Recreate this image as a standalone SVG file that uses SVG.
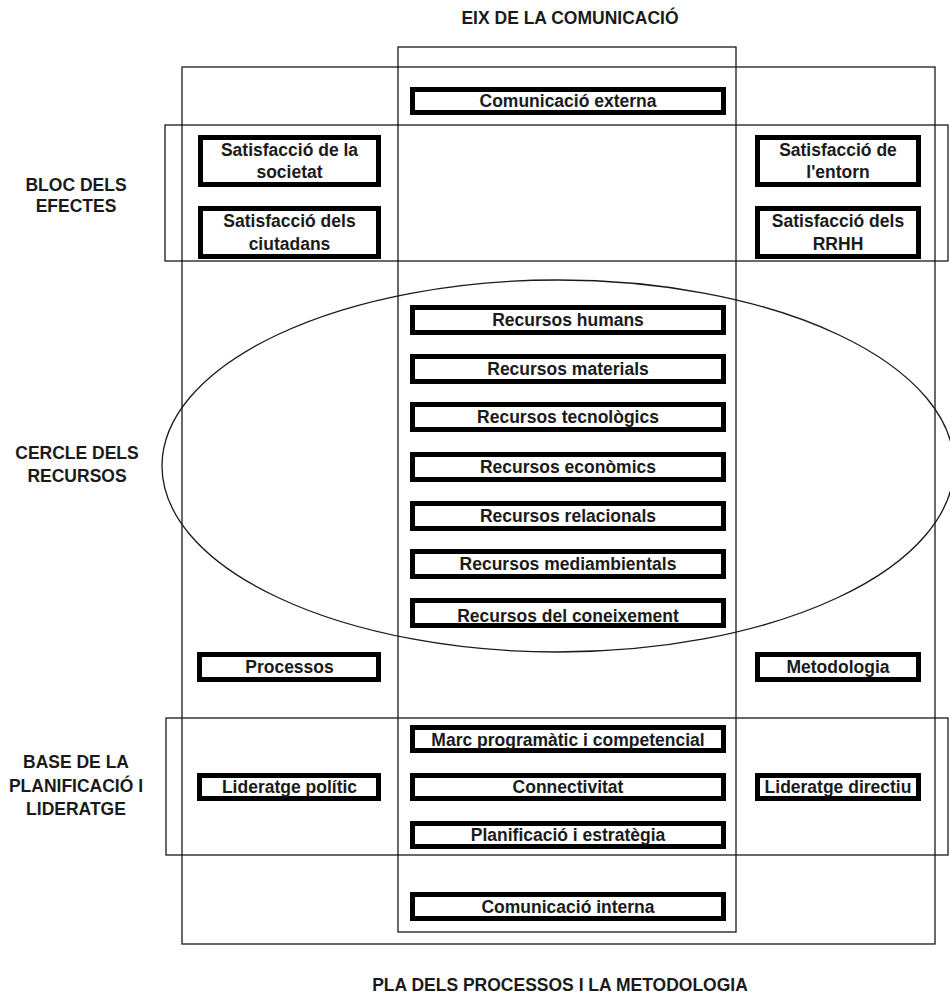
<svg xmlns="http://www.w3.org/2000/svg" width="950" height="995" viewBox="0 0 950 995">
<style>
.frame{fill:none;stroke:#1a1a1a;stroke-width:1.3}
.box rect{fill:#fff;stroke:#000;stroke-width:5}
text{font-family:"Liberation Sans",Arial,sans-serif;font-weight:bold;font-size:17.5px;fill:#1a1a1a;text-anchor:middle}
</style>
<rect width="950" height="995" fill="#fff"/>
<g id="frames">
<rect class="frame" x="182" y="67" width="753" height="877"/>
<rect class="frame" x="398" y="47" width="338" height="885"/>
<rect class="frame" x="165" y="125" width="783" height="136"/>
<rect class="frame" x="166" y="718" width="782" height="137"/>
<ellipse class="frame" cx="558" cy="466" rx="396" ry="186"/>
</g>
<g id="labels">
<text x="570" y="24">EIX DE LA COMUNICACIÓ</text>
<text x="76" y="191">BLOC DELS</text>
<text x="76" y="212">EFECTES</text>
<text x="77" y="459">CERCLE DELS</text>
<text x="77" y="482">RECURSOS</text>
<text x="76" y="768">BASE DE LA</text>
<text x="76" y="792">PLANIFICACIÓ I</text>
<text x="76" y="815">LIDERATGE</text>
<text x="560" y="991">PLA DELS PROCESSOS I LA METODOLOGIA</text>
</g>
<g id="n-com-ext" class="box"><rect x="412.5" y="89.5" width="311" height="23"/><text x="568" y="107">Comunicació externa</text></g>
<g id="n-sat-soc" class="box"><rect x="200.5" y="137.5" width="178" height="47"/><text x="289.5" y="156">Satisfacció de la</text><text x="289.5" y="178">societat</text></g>
<g id="n-sat-ciu" class="box"><rect x="200.5" y="208.5" width="178" height="48"/><text x="289.5" y="227">Satisfacció dels</text><text x="289.5" y="250">ciutadans</text></g>
<g id="n-sat-ent" class="box"><rect x="757.5" y="137.5" width="161" height="47"/><text x="838" y="156">Satisfacció de</text><text x="838" y="178">l'entorn</text></g>
<g id="n-sat-rrhh" class="box"><rect x="757.5" y="208.5" width="161" height="48"/><text x="838" y="227">Satisfacció dels</text><text x="838" y="250">RRHH</text></g>
<g id="n-rec-hum" class="box"><rect x="412.5" y="307.5" width="311" height="25"/><text x="568" y="326">Recursos humans</text></g>
<g id="n-rec-mat" class="box"><rect x="412.5" y="356.5" width="311" height="25"/><text x="568" y="375">Recursos materials</text></g>
<g id="n-rec-tec" class="box"><rect x="412.5" y="404.5" width="311" height="25"/><text x="568" y="423">Recursos tecnològics</text></g>
<g id="n-rec-eco" class="box"><rect x="412.5" y="454.5" width="311" height="25"/><text x="568" y="473">Recursos econòmics</text></g>
<g id="n-rec-rel" class="box"><rect x="412.5" y="503.5" width="311" height="25"/><text x="568" y="522">Recursos relacionals</text></g>
<g id="n-rec-med" class="box"><rect x="412.5" y="551.5" width="311" height="25"/><text x="568" y="570">Recursos mediambientals</text></g>
<g id="n-rec-con" class="box"><rect x="412.5" y="600.5" width="311" height="25"/><text x="568" y="622">Recursos del coneixement</text></g>
<g id="n-processos" class="box"><rect x="199.5" y="654.5" width="179" height="25"/><text x="289.5" y="673">Processos</text></g>
<g id="n-metodologia" class="box"><rect x="757.5" y="654.5" width="161" height="25"/><text x="838" y="673">Metodologia</text></g>
<g id="n-marc" class="box"><rect x="412.5" y="727.5" width="311" height="23"/><text x="568" y="746">Marc programàtic i competencial</text></g>
<g id="n-connect" class="box"><rect x="412.5" y="775.5" width="311" height="23"/><text x="568" y="793">Connectivitat</text></g>
<g id="n-planif" class="box"><rect x="412.5" y="823.5" width="311" height="23"/><text x="568" y="841">Planificació i estratègia</text></g>
<g id="n-lid-pol" class="box"><rect x="199.5" y="775.5" width="179" height="23"/><text x="289.5" y="793">Lideratge polític</text></g>
<g id="n-lid-dir" class="box"><rect x="757.5" y="775.5" width="161" height="23"/><text x="838" y="793">Lideratge directiu</text></g>
<g id="n-com-int" class="box"><rect x="412.5" y="894.5" width="311" height="24"/><text x="568" y="913">Comunicació interna</text></g>
<g id="connectors"></g>
</svg>
